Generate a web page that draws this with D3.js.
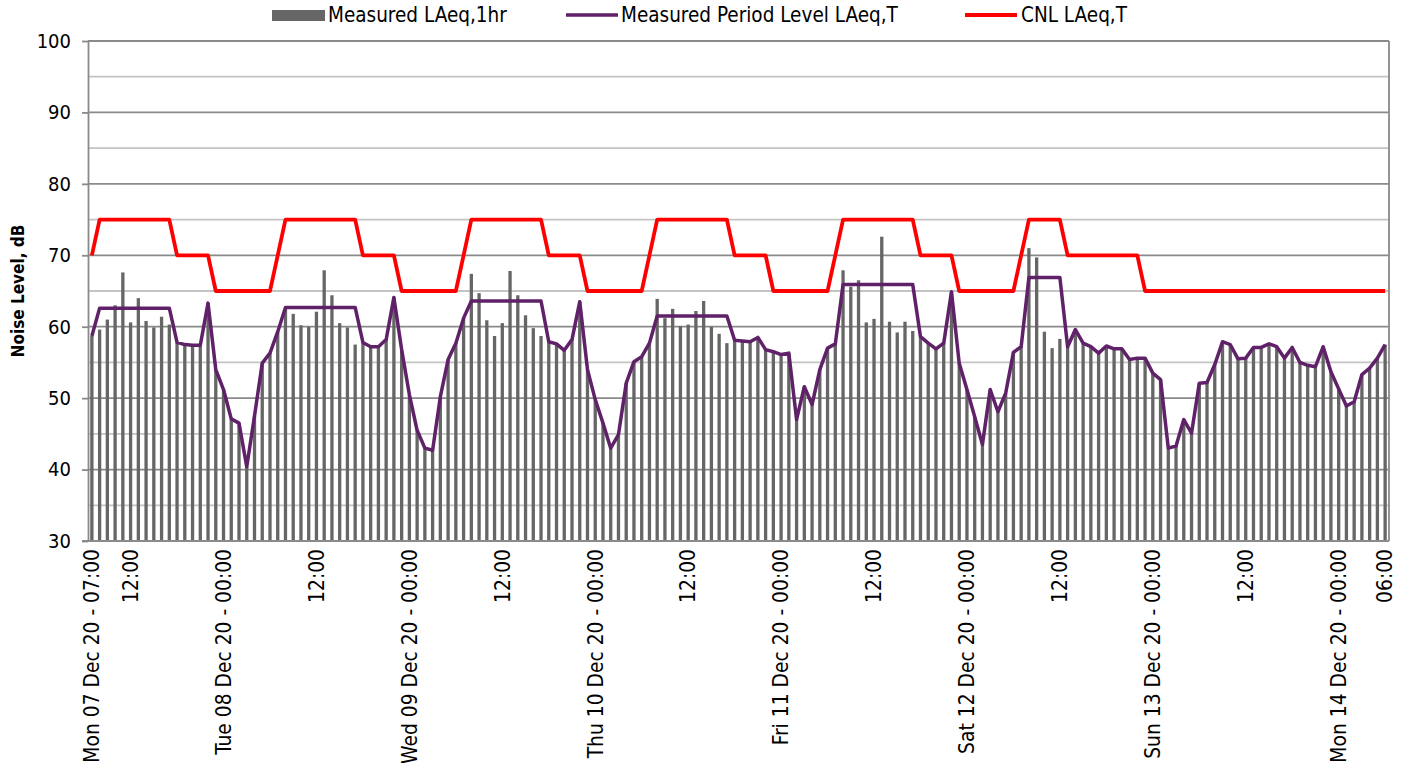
<!DOCTYPE html>
<html>
<head>
<meta charset="utf-8">
<script src="https://cdn.jsdelivr.net/npm/d3@7"></script>
<style>
  body { margin: 0; background: #fff; }
  svg { display: block; }
  text { font-family: "DejaVu Sans Condensed", "DejaVu Sans", sans-serif; fill: #000; }
</style>
</head>
<body>
<div id="chart"></div>
<script>
// Hourly categories, Mon 07 Dec 20 07:00 -> Mon 14 Dec 20 06:00 (168 hours)
const horas = d3.range(168);

// Measured LAeq,1hr (bars)
const medidoHora = [
  58.7, 59.6, 61.0, 63.0, 67.6, 60.6, 64.0, 60.8, 59.9, 61.4, 60.3,
  57.8, 57.5, 57.4, 57.4, 63.3, 54.0,
  51.2, 47.1, 46.5, 40.4, 47.5, 54.9, 56.3, 59.3,
  62.6, 61.8, 60.2, 60.0, 62.1, 67.9, 64.4, 60.5, 59.9, 57.5,
  57.8, 57.2, 57.2, 58.2, 64.1, 56.8, 50.5, 45.5, 43.0, 42.7, 50.2, 55.4, 57.7, 61.2,
  67.4, 64.7, 60.9, 58.7, 60.5, 67.8, 64.4, 61.6, 59.8, 58.7,
  57.9, 57.6, 56.7, 58.2, 63.5, 54.0, 49.8, 46.5, 43.0, 44.9, 52.1, 55.1, 55.8, 57.7,
  63.9, 61.2, 62.5, 60.1, 60.3, 62.2, 63.6, 60.0, 59.0, 57.7,
  58.1, 58.0, 57.9, 58.5, 56.8, 56.5, 56.1, 56.3, 47.0, 51.6, 49.1, 54.0, 57.0, 57.6,
  67.9, 65.6, 66.5, 60.6, 61.1, 72.6, 60.7, 59.2, 60.7, 59.4,
  58.6, 57.7, 56.9, 57.7, 64.9, 54.9, 51.2, 47.4, 43.5, 51.2, 48.1, 50.7, 56.4, 57.2,
  71.0, 69.7, 59.3, 57.0, 58.3,
  57.2, 59.6, 57.7, 57.2, 56.3, 57.3, 56.9, 56.9, 55.4, 55.6, 55.6,
  53.5, 52.6, 43.0, 43.3, 47.0, 45.1, 52.1, 52.2, 54.7, 57.9, 57.5,
  55.5, 55.6, 57.1, 57.1, 57.6, 57.2, 55.6, 57.1, 55.0, 54.6, 54.4,
  57.2, 53.7, 51.3, 48.9, 49.5, 53.3, 54.2, 55.6, 57.5
];

// Measured Period Level LAeq,T (purple line)
const medidoPeriodo = [
  58.7, 62.6, 62.6, 62.6, 62.6, 62.6, 62.6, 62.6, 62.6, 62.6, 62.6,
  57.8, 57.5, 57.4, 57.4, 63.3, 54.0,
  51.2, 47.1, 46.5, 40.4, 47.5, 54.9, 56.3, 59.3,
  62.7, 62.7, 62.7, 62.7, 62.7, 62.7, 62.7, 62.7, 62.7, 62.7,
  57.8, 57.2, 57.2, 58.2, 64.1, 56.8, 50.5, 45.5, 43.0, 42.7, 50.2, 55.4, 57.7, 61.2,
  63.6, 63.6, 63.6, 63.6, 63.6, 63.6, 63.6, 63.6, 63.6, 63.6,
  57.9, 57.6, 56.7, 58.2, 63.5, 54.0, 49.8, 46.5, 43.0, 44.9, 52.1, 55.1, 55.8, 57.7,
  61.5, 61.5, 61.5, 61.5, 61.5, 61.5, 61.5, 61.5, 61.5, 61.5,
  58.1, 58.0, 57.9, 58.5, 56.8, 56.5, 56.1, 56.3, 47.0, 51.6, 49.1, 54.0, 57.0, 57.6,
  65.9, 65.9, 65.9, 65.9, 65.9, 65.9, 65.9, 65.9, 65.9, 65.9,
  58.6, 57.7, 56.9, 57.7, 64.9, 54.9, 51.2, 47.4, 43.5, 51.2, 48.1, 50.7, 56.4, 57.2,
  66.9, 66.9, 66.9, 66.9, 66.9,
  57.2, 59.6, 57.7, 57.2, 56.3, 57.3, 56.9, 56.9, 55.4, 55.6, 55.6,
  53.5, 52.6, 43.0, 43.3, 47.0, 45.1, 52.1, 52.2, 54.7, 57.9, 57.5,
  55.5, 55.6, 57.1, 57.1, 57.6, 57.2, 55.6, 57.1, 55.0, 54.6, 54.4,
  57.2, 53.7, 51.3, 48.9, 49.5, 53.3, 54.2, 55.6, 57.5
];

// CNL LAeq,T (red line)
const cnl = [
  70, 75, 75, 75, 75, 75, 75, 75, 75, 75, 75, 70, 70, 70, 70, 70, 65,
  65, 65, 65, 65, 65, 65, 65, 70, 75, 75, 75, 75, 75, 75, 75, 75, 75, 75, 70, 70, 70, 70, 70, 65,
  65, 65, 65, 65, 65, 65, 65, 70, 75, 75, 75, 75, 75, 75, 75, 75, 75, 75, 70, 70, 70, 70, 70, 65,
  65, 65, 65, 65, 65, 65, 65, 70, 75, 75, 75, 75, 75, 75, 75, 75, 75, 75, 70, 70, 70, 70, 70, 65,
  65, 65, 65, 65, 65, 65, 65, 70, 75, 75, 75, 75, 75, 75, 75, 75, 75, 75, 70, 70, 70, 70, 70, 65,
  65, 65, 65, 65, 65, 65, 65, 70, 75, 75, 75, 75, 75, 70, 70, 70, 70, 70, 70, 70, 70, 70, 70, 65,
  65, 65, 65, 65, 65, 65, 65, 65, 65, 65, 65, 65, 65, 65, 65, 65, 65, 65, 65, 65, 65, 65, 65, 65,
  65, 65, 65, 65, 65, 65, 65
];

// Tick labels (category index -> text)
const etiquetas = [
  [0, "Mon 07 Dec 20 - 07:00"], [5, "12:00"],
  [17, "Tue 08 Dec 20 - 00:00"], [29, "12:00"],
  [41, "Wed 09 Dec 20 - 00:00"], [53, "12:00"],
  [65, "Thu 10 Dec 20 - 00:00"], [77, "12:00"],
  [89, "Fri 11 Dec 20 - 00:00"], [101, "12:00"],
  [113, "Sat 12 Dec 20 - 00:00"], [125, "12:00"],
  [137, "Sun 13 Dec 20 - 00:00"], [149, "12:00"],
  [161, "Mon 14 Dec 20 - 00:00"], [167, "06:00"]
];
const valoresY = [30, 40, 50, 60, 70, 80, 90, 100];

const ancho = 1409, alto = 763;
const izq = 88, der = 1389, sup = 41, inf = 541;

const svg = d3.select("#chart").append("svg")
  .attr("width", ancho)
  .attr("height", alto);

const x = d3.scaleBand().domain(horas).range([izq, der]);
const y = d3.scaleLinear().domain([30, 100]).range([inf, sup]);

// grid
svg.append("g").selectAll("line")
  .data(d3.range(35, 101, 5))
  .join("line")
  .attr("x1", izq).attr("x2", der)
  .attr("y1", d => y(d)).attr("y2", d => y(d))
  .attr("stroke", d => d % 10 === 0 ? "#8a8a8a" : "#c4c4c4")
  .attr("stroke-width", 1.8);

svg.append("line")
  .attr("x1", der).attr("x2", der).attr("y1", sup).attr("y2", inf)
  .attr("stroke", "#8a8a8a").attr("stroke-width", 1.8);

// bars
const anchoBarra = 3.3;
svg.append("g").selectAll("rect")
  .data(medidoHora)
  .join("rect")
  .attr("x", (d, i) => x(i) + (x.bandwidth() - anchoBarra) / 2)
  .attr("y", d => y(d))
  .attr("width", anchoBarra)
  .attr("height", d => y(30) - y(d))
  .attr("fill", "#666666");

const cx = i => x(i) + x.bandwidth() / 2;

// lines
const linea = d3.line().x((d, i) => cx(i)).y(d => y(d));

svg.append("path")
  .datum(cnl)
  .attr("d", linea)
  .attr("fill", "none")
  .attr("stroke", "#ff0000")
  .attr("stroke-width", 3.8)
  .attr("stroke-linejoin", "round");

svg.append("path")
  .datum(medidoPeriodo)
  .attr("d", linea)
  .attr("fill", "none")
  .attr("stroke", "#5f2167")
  .attr("stroke-width", 3.5)
  .attr("stroke-linejoin", "round");

// y axis
const ejeY = svg.append("g")
  .attr("transform", `translate(${izq},0)`)
  .call(d3.axisLeft(y).tickValues(valoresY).tickSize(6).tickSizeOuter(0).tickPadding(11));
ejeY.select(".domain").attr("stroke", "#8a8a8a").attr("stroke-width", 1.8);
ejeY.selectAll(".tick line").attr("stroke", "#8a8a8a").attr("stroke-width", 1.8);
ejeY.selectAll(".tick text")
  .attr("font-size", 20)
  .style("font-family", "'DejaVu Sans Condensed', 'DejaVu Sans', sans-serif");

// x axis
svg.append("line")
  .attr("x1", izq - 6).attr("x2", der).attr("y1", inf).attr("y2", inf)
  .attr("stroke", "#8a8a8a").attr("stroke-width", 1.8);

svg.append("g").selectAll("text")
  .data(etiquetas)
  .join("text")
  .attr("transform", d => `translate(${cx(d[0])},${inf + 8}) rotate(-90)`)
  .attr("text-anchor", "end")
  .attr("dy", "0.35em")
  .attr("font-size", 20.8)
  .text(d => d[1]);

// y title
svg.append("text")
  .attr("transform", "translate(18,291) rotate(-90)")
  .attr("text-anchor", "middle")
  .attr("dy", "0.35em")
  .attr("font-size", 17)
  .attr("font-weight", "bold")
  .text("Noise Level, dB");

// legend
const leyenda = svg.append("g");
leyenda.append("rect").attr("x", 272).attr("y", 10).attr("width", 53).attr("height", 11).attr("fill", "#666666");
leyenda.append("text").attr("x", 328).attr("y", 15).attr("dy", "0.35em").attr("font-size", 20.5).text("Measured LAeq,1hr");
leyenda.append("line").attr("x1", 566).attr("x2", 618).attr("y1", 15).attr("y2", 15)
  .attr("stroke", "#5f2167").attr("stroke-width", 3.5);
leyenda.append("text").attr("x", 621).attr("y", 15).attr("dy", "0.35em").attr("font-size", 20.5).text("Measured Period Level LAeq,T");
leyenda.append("line").attr("x1", 965).attr("x2", 1017).attr("y1", 15).attr("y2", 15)
  .attr("stroke", "#ff0000").attr("stroke-width", 3.8);
leyenda.append("text").attr("x", 1021).attr("y", 15).attr("dy", "0.35em").attr("font-size", 20.5).text("CNL LAeq,T");
</script>
</body>
</html>
